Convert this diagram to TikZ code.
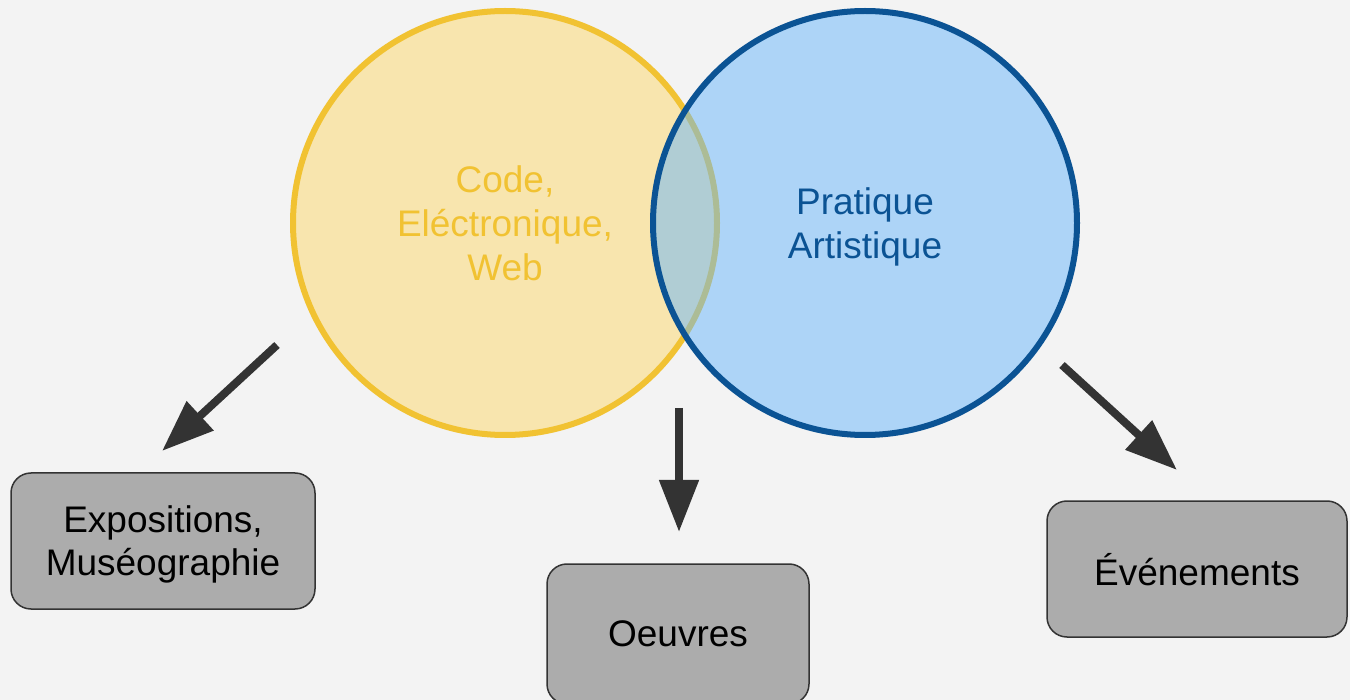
\documentclass[tikz,border=0pt]{standalone}
\usepackage{fontspec}
\setmainfont{Liberation Sans}
\usetikzlibrary{arrows.meta}

\definecolor{bgpage}{RGB}{243,243,243}
\definecolor{codeyellow}{RGB}{241,194,50}
\definecolor{codefill}{RGB}{248,229,174}
\definecolor{artblue}{RGB}{11,83,148}
\definecolor{artfill}{RGB}{105,183,251}
\definecolor{boxgray}{RGB}{172,172,172}
\definecolor{boxline}{RGB}{51,51,51}
\definecolor{arrowgray}{RGB}{51,51,51}

\begin{document}
\begin{tikzpicture}[
    x=1pt, y=-1pt,
    field/.style={circle, minimum size=424pt, line width=6pt, align=center,
      text depth=0pt, font=\fontsize{37}{44}\selectfont},
    outcome/.style={draw=boxline, fill=boxgray, rounded corners=20pt, line width=1.5pt,
      align=center, text depth=0pt, font=\fontsize{37}{43}\selectfont, text=black},
    arr/.style={-{Triangle[length=52pt, width=38pt]}, line width=8pt, draw=arrowgray},
  ]
  % page
  \fill[bgpage] (0,0) rectangle (1350,700);
  \useasboundingbox (0,0) rectangle (1350,700);

  % the two overlapping fields
  \node[field, draw=codeyellow, fill=codefill, text=codeyellow] (code) at (505,223)
    {Code,\\Eléctronique,\\Web};
  \node[field, draw=artblue, fill=artfill, fill opacity=0.5, text opacity=1,
        text=artblue] (art) at (865,223) {Pratique\\Artistique};

  % outcomes
  \node[outcome, minimum width=304pt, minimum height=136pt] (expo) at (163,541) {Expositions,\\Muséographie};
  \node[outcome, minimum width=262pt, minimum height=140pt] (oeuvres) at (678,634) {Oeuvres};
  \node[outcome, minimum width=300pt, minimum height=136pt] (events) at (1197,569) {Événements};

  % arrow ends
  \coordinate (expoS) at (277,345);
  \coordinate (expoT) at (162,451);
  \coordinate (oeuvS) at (679,408);
  \coordinate (oeuvT) at (679,532);
  \coordinate (evtS) at (1062,365);
  \coordinate (evtT) at (1177,470);

  \draw[arr] (expoS) -- (expoT);
  \draw[arr] (oeuvS) -- (oeuvT);
  \draw[arr] (evtS) -- (evtT);
\end{tikzpicture}
\end{document}
